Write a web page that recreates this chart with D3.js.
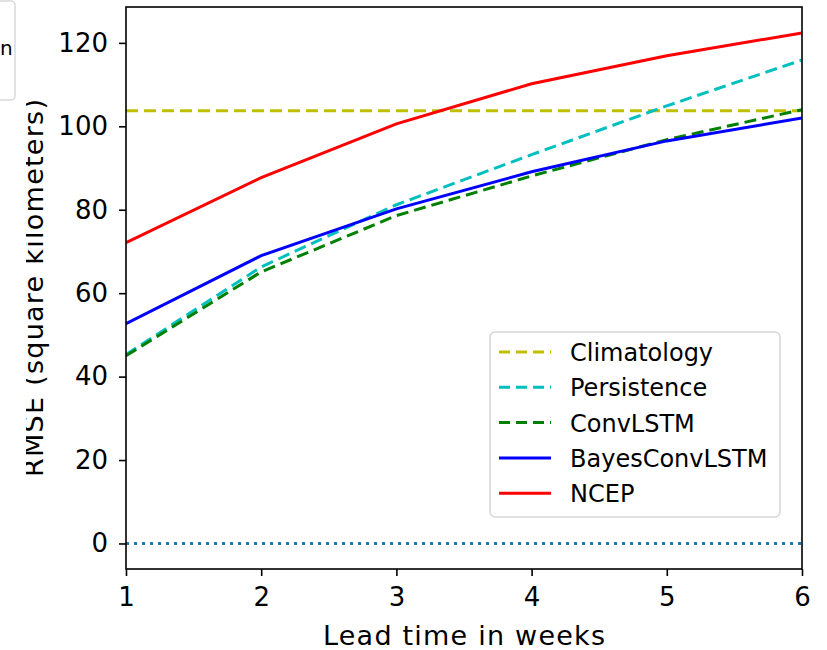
<!DOCTYPE html>
<html>
<head>
<meta charset="utf-8">
<script src="https://cdn.jsdelivr.net/npm/d3@7"></script>
<style>
  body { margin: 0; background: #fff; }
  text { font-family: "DejaVu Sans", sans-serif; fill: #000; }
</style>
</head>
<body>
<div id="chart-area"></div>
<script>
// data
var weeks = [1, 2, 3, 4, 5, 6];
var climatology = [103.7, 103.7, 103.7, 103.7, 103.7, 103.7];
var persistence = [45.3, 66.3, 81.2, 93.2, 104.9, 115.9];
var convLSTM = [45.0, 65.1, 78.6, 88.1, 96.8, 104.0];
var bayesConvLSTM = [52.7, 69.0, 80.2, 89.1, 96.5, 102.0];
var ncep = [72.1, 87.7, 100.6, 110.2, 116.9, 122.4];
var zeroLine = [0, 0, 0, 0, 0, 0];
var yTicks = [0, 20, 40, 60, 80, 100, 120];

var series = [
    {name: "Climatology", values: climatology, color: "#bfbf00", dash: "12,6"},
    {name: "Persistence", values: persistence, color: "#00bfbf", dash: "12,6"},
    {name: "ConvLSTM", values: convLSTM, color: "#008000", dash: "12,6"},
    {name: "BayesConvLSTM", values: bayesConvLSTM, color: "#0000ff", dash: null},
    {name: "NCEP", values: ncep, color: "#ff0000", dash: null}
];

var width = 827, height = 650;
var margin = {top: 7, right: 25, bottom: 81, left: 126};
var w = width - margin.left - margin.right,
    h = height - margin.top - margin.bottom;

var svg = d3.select("#chart-area")
    .append("svg")
    .attr("width", width)
    .attr("height", height);

// piece of a neighbouring legend box at the left edge
svg.append("rect")
    .attr("x", -40)
    .attr("y", 1)
    .attr("width", 55)
    .attr("height", 99)
    .attr("rx", 4)
    .attr("fill", "#fff")
    .attr("stroke", "#d9d9d9")
    .attr("stroke-width", 1.5);
svg.append("text")
    .attr("x", 0)
    .attr("y", 55)
    .style("font-size", "20px")
    .text("n");

var g = svg.append("g")
    .attr("transform", "translate(" + margin.left + "," + margin.top + ")");

var x = d3.scaleLinear().domain([1, 6]).range([0, w]);
var y = d3.scaleLinear().domain([-6.12, 128.6]).range([h, 0]);

g.append("defs").append("clipPath")
    .attr("id", "plot-clip")
    .append("rect")
    .attr("width", w)
    .attr("height", h);

var line = d3.line()
    .x(function (d, i) { return x(weeks[i]); })
    .y(function (d) { return y(d); });

var plot = g.append("g").attr("clip-path", "url(#plot-clip)");

// zero reference line
plot.append("path")
    .datum(zeroLine)
    .attr("d", line)
    .attr("fill", "none")
    .attr("stroke", "#1f77b4")
    .attr("stroke-width", 3)
    .attr("stroke-dasharray", "3,5");

plot.selectAll(".series")
    .data(series)
    .enter()
    .append("path")
    .attr("class", "series")
    .attr("d", function (d) { return line(d.values); })
    .attr("fill", "none")
    .attr("stroke", function (d) { return d.color; })
    .attr("stroke-width", 3)
    .attr("stroke-dasharray", function (d) { return d.dash; });

// axes
var xAxis = d3.axisBottom(x).tickValues(weeks).tickFormat(d3.format("d"))
    .tickSizeInner(7).tickSizeOuter(0).tickPadding(12);
var yAxis = d3.axisLeft(y).tickValues(yTicks)
    .tickSizeInner(7).tickSizeOuter(0).tickPadding(11);

var gx = g.append("g")
    .attr("transform", "translate(0," + h + ")")
    .call(xAxis);
var gy = g.append("g").call(yAxis);

[gx, gy].forEach(function (a) {
    a.select(".domain").remove();
    a.selectAll("line").attr("stroke", "#000").attr("stroke-width", 1.6);
    a.selectAll("text")
        .style("font-family", "DejaVu Sans, sans-serif")
        .style("font-size", "26px")
        .attr("fill", "#000");
});

// frame
g.append("rect")
    .attr("width", w)
    .attr("height", h)
    .attr("fill", "none")
    .attr("stroke", "#000")
    .attr("stroke-width", 1.6);

// axis labels
g.append("text")
    .attr("x", w / 2)
    .attr("y", h + 76)
    .attr("text-anchor", "middle")
    .style("font-size", "27px")
    .attr("textLength", 282)
    .text("Lead time in weeks");

// y label, its top edge cut off like in the picture
svg.append("defs").append("clipPath")
    .attr("id", "ylabel-clip")
    .append("rect")
    .attr("x", 26)
    .attr("y", 0)
    .attr("width", 100)
    .attr("height", height);

svg.append("g")
    .attr("clip-path", "url(#ylabel-clip)")
    .append("text")
    .attr("transform", "translate(43," + (margin.top + h / 2) + ") rotate(-90)")
    .attr("text-anchor", "middle")
    .style("font-size", "27px")
    .attr("textLength", 378)
    .text("RMSE (square kilometers)");

// legend
var legend = g.append("g")
    .attr("transform", "translate(" + (490 - margin.left) + "," + (332 - margin.top) + ")");

legend.append("rect")
    .attr("width", 290)
    .attr("height", 185)
    .attr("rx", 5)
    .attr("fill", "#fff")
    .attr("fill-opacity", 0.8)
    .attr("stroke", "#d6d6d6")
    .attr("stroke-width", 1.5);

var rows = legend.selectAll(".row")
    .data(series)
    .enter()
    .append("g")
    .attr("class", "row")
    .attr("transform", function (d, i) { return "translate(0," + (20 + i * 35.3) + ")"; });

rows.append("line")
    .attr("x1", 9)
    .attr("x2", 61)
    .attr("stroke", function (d) { return d.color; })
    .attr("stroke-width", 3)
    .attr("stroke-dasharray", function (d) { return d.dash ? "11,6" : null; });

rows.append("text")
    .attr("x", 80)
    .attr("y", 9)
    .style("font-size", "24px")
    .text(function (d) { return d.name; });
</script>
</body>
</html>
